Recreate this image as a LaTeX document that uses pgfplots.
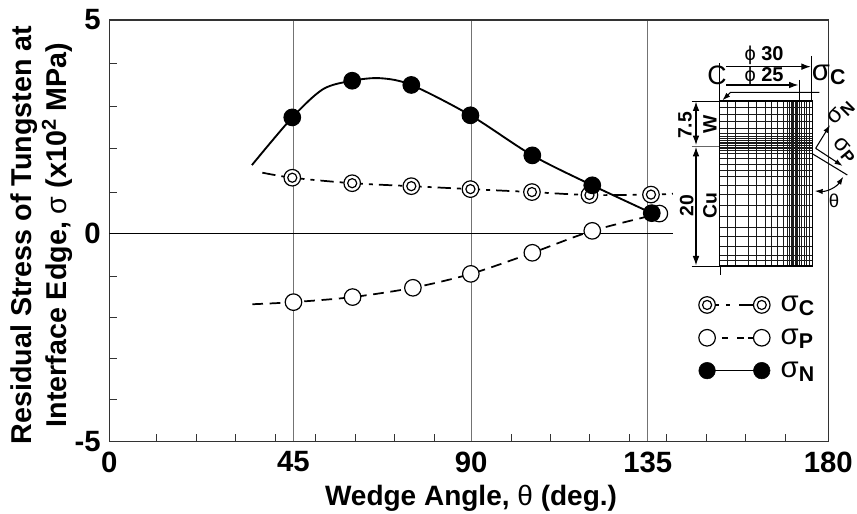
\documentclass[border=0pt]{standalone}
\usepackage{fontspec}
\setmainfont{Liberation Sans}
\usepackage{pgfplots}
\pgfplotsset{compat=1.18}
\usetikzlibrary{arrows.meta}
\usetikzlibrary{plotmarks}

% circle with a second ring inside, for sigma_C
\pgfdeclareplotmark{ringed}{%
  \pgfpathcircle{\pgfpointorigin}{\pgfplotmarksize}\pgfusepathqfillstroke
  \pgfpathcircle{\pgfpointorigin}{0.55\pgfplotmarksize}\pgfusepathqstroke}

\newcommand{\sig}[1]{{\mdseries\fontsize{22}{22}\selectfont σ}{\bfseries\fontsize{16}{16}\selectfont\raisebox{-3pt}{#1}}}

\tikzset{
  linec/.style={line width=1.3pt,dash pattern=on 10pt off 4.5pt on 3pt off 4.5pt},
  linep/.style={line width=1.3pt,dash pattern=on 8pt off 5pt},
  linen/.style={line width=1.4pt},
}
\newcommand{\legsample}[2]{% line style, mark
  \draw[#1] (0pt,0pt) -- (41pt,0pt);
  \draw[line width=0.9pt,fill=white] plot[mark=#2,mark size=6.2pt,only marks] coordinates {(0pt,0pt) (41pt,0pt)};
}

\begin{document}
\begin{tikzpicture}
\useasboundingbox (0,0) rectangle (642.75pt,385.5pt);
\begin{axis}[
  at={(82pt,54.2pt)}, anchor=south west,
  width=539.25pt, height=316.3pt, scale only axis,
  xmin=0, xmax=180, ymin=-5, ymax=5,
  axis line style={line width=0.9pt,black!80},
  % tick positions as read off the scan, which is slightly distorted
  xtick={0,46.1,90.6,134.8,180},
  xticklabels={0,45,90,135,180},
  minor xtick={11.7,21.9,31.6,41.7,51.7,61.7,71.4,81.5,100.6,110.5,120.2,130.1,139.6,149.6,159.3,169.3},
  ytick={-5,-0.07,5},
  yticklabels={-5,0,5},
  minor ytick={-4,-3.03,-2.06,-1.09,0.92,1.96,2.96,3.98},
  xtick pos=bottom, ytick pos=left,
  tick align=inside,
  major tick length=0pt, minor tick length=6pt,
  tick style={line width=0.7pt,black!80},
  xmajorgrids,
  major grid style={line width=0.8pt,black!55},
  tick label style={font=\fontsize{22}{22}\selectfont\bfseries},
  xticklabel style={yshift=-4pt},
  yticklabel style={xshift=-3pt},
  xlabel={Wedge Angle, {\mdseries θ} (deg.)},
  xlabel style={font=\fontsize{21}{21}\selectfont\bfseries,at={(rel axis cs:0.503,0)},anchor=base,yshift=-48pt},
  ylabel={Residual Stress of Tungsten at\\[1pt]Interface Edge, {\mdseries σ} (x10\textsuperscript{2} MPa)},
  ylabel style={font=\fontsize{21.5}{25}\selectfont\bfseries,align=center,at={(rel axis cs:0,0.49)},anchor=center,yshift=51pt},
  legend style={draw=none,fill=none,at={(rel axis cs:0.8195,0.352)},anchor=north west,
    row sep=7.5pt,column sep=6pt,inner sep=0pt},
  legend cell align=left,
]
% zero line stops short of the right frame
\addplot[forget plot,line width=0.7pt,black] coordinates {(0,-0.07) (141,-0.07)};

\addplot[forget plot,linec,smooth] coordinates {
(38.3,1.38) (45.8,1.26) (60.8,1.13) (75.6,1.06) (90.4,0.99) (105.8,0.92) (120.2,0.85) (135.6,0.86) (141.1,0.88)};
\addplot[forget plot,only marks,mark=ringed,mark size=6.2pt,mark options={line width=0.9pt,fill=white,draw=black}] coordinates {
(45.8,1.26) (60.8,1.13) (75.6,1.06) (90.4,0.99) (105.8,0.92) (120.2,0.85) (135.6,0.86)};

\addplot[forget plot,linep,smooth] coordinates {
(35.8,-1.74) (46.1,-1.69) (60.9,-1.57) (76,-1.35) (90.5,-1.02) (105.9,-0.52) (120.9,0) (137.7,0.41) (140.8,0.49)};
\addplot[forget plot,only marks,mark=*,mark size=6.2pt,mark options={line width=0.9pt,fill=white,draw=black}] coordinates {
(46.1,-1.69) (60.9,-1.57) (76,-1.35) (90.5,-1.02) (105.9,-0.52) (120.9,0) (137.7,0.41)};

\addplot[forget plot,linen,smooth] coordinates {
(35.7,1.56) (45.8,2.69) (53.5,3.36) (60.8,3.56) (67.8,3.62) (75.6,3.46) (90.4,2.74) (105.9,1.79) (120.9,1.08) (135.8,0.42)};
\addplot[forget plot,only marks,mark=*,mark size=6.2pt,mark options={line width=0.9pt,fill=black,draw=black}] coordinates {
(45.8,2.69) (60.8,3.56) (75.6,3.46) (90.4,2.74) (105.9,1.79) (120.9,1.08) (135.8,0.42)};

\addlegendimage{legend image code/.code={\legsample{line width=1.2pt,dash pattern=on 9pt off 5pt on 3.5pt off 6.5pt on 12pt off 10pt}{ringed}}}
\addlegendentry{\sig{C}}
\addlegendimage{legend image code/.code={\legsample{line width=1.2pt,dash pattern=on 0pt off 11pt on 5pt off 6.5pt on 5pt off 3pt on 5pt off 10pt}{*}}}
\addlegendentry{\sig{P}}
\addlegendimage{legend image code/.code={
  \draw[line width=1.1pt] (0pt,0pt) -- (41pt,0pt);
  \draw[fill=black] plot[mark=*,mark size=6.2pt,only marks] coordinates {(0pt,0pt) (41pt,0pt)};}}
\addlegendentry{\sig{N}}
\end{axis}

% inset: mesh of the joint. Coordinates are those of a 3x crop with origin at pixel (640,20)
\begin{scope}[x=0.25pt,y=-0.25pt,shift={(480pt,370.5pt)},line cap=butt]
\foreach \v in {238,262,287,325,350,375,395,413,430,441,449,453,457,461,465,469,473,477,484,492,500,508,518}
  \draw[line width=0.55pt,black!90] (\v,243) -- (\v,738);
\foreach \h in {243,262,283,305,325,340,350,356,361,366,371,376,381,386,391,400,415,432,450,470,495,523,555,590,622,650,680,705,720,738}
  \draw[line width=0.55pt,black!90] (238,\h) -- (518,\h);
\draw[line width=0.8pt] (238,243) rectangle (518,738);
% centre line and widths
\draw[line width=0.7pt] (238,130) -- (238,243);
\draw[line width=0.7pt] (240,738) -- (240,765);
\draw[line width=0.7pt] (515,108) -- (515,243);
\draw[line width=0.7pt] (478,180) -- (478,243);
\draw[line width=0.8pt,-{Latex[length=7pt,width=5pt]}] (258,140) -- (512,140);
\draw[line width=0.8pt,-{Latex[length=7pt,width=5pt]}] (258,195) -- (475,195);
\draw[line width=0.8pt,-{Latex[length=6pt,width=4pt]}] (538,217) -- (272,217) -- (247,241);
% heights
\draw[line width=0.7pt] (155,243) -- (238,243);
\draw[line width=0.7pt,black!60] (155,378) -- (236,378);
\draw[line width=0.7pt] (155,738) -- (238,738);
\draw[line width=0.8pt,{Latex[length=7pt,width=5pt]}-{Latex[length=7pt,width=5pt]}] (168,245) -- (168,375);
\draw[line width=0.8pt,{Latex[length=7pt,width=5pt]}-{Latex[length=7pt,width=5pt]}] (168,381) -- (168,736);
% stress directions
\draw[line width=0.8pt,-{Latex[length=6pt,width=4pt]}] (527,385) -- (570,315);
\draw[line width=0.8pt,-{Latex[length=6pt,width=4pt]}] (527,385) -- (608,438);
\draw[line width=0.8pt] (515,400) -- (622,465);
\draw[line width=0.8pt,{Latex[length=6pt,width=4pt]}-{Latex[length=6pt,width=4pt]}] (524,513) to[bend right=30] (610,470);
% texts
\node[font=\fontsize{15}{15}\selectfont\bfseries] at (372,106) {{\mdseries ϕ} 30};
\node[font=\fontsize{15}{15}\selectfont\bfseries] at (372,168) {{\mdseries ϕ} 25};
\node[font=\fontsize{20}{20}\selectfont] at (231,165) {C};
\node at (566,165) {\sig{C}};
\node[font=\fontsize{14.5}{14.5}\selectfont\bfseries,rotate=90] at (135,316) {7.5};
\node[font=\fontsize{14.5}{14.5}\selectfont\bfseries,rotate=90] at (210,312) {W};
\node[font=\fontsize{14.5}{14.5}\selectfont\bfseries,rotate=90] at (210,558) {Cu};
\node[font=\fontsize{14.5}{14.5}\selectfont\bfseries,rotate=90] at (140,556) {20};
\node[rotate=45,scale=0.8] at (603,278) {\sig{N}};
\node[rotate=-50,scale=0.8] at (614,392) {\sig{P}};
\node[font=\fontsize{14}{14}\selectfont] at (582,544) {θ};
\end{scope}
\end{tikzpicture}
\end{document}
